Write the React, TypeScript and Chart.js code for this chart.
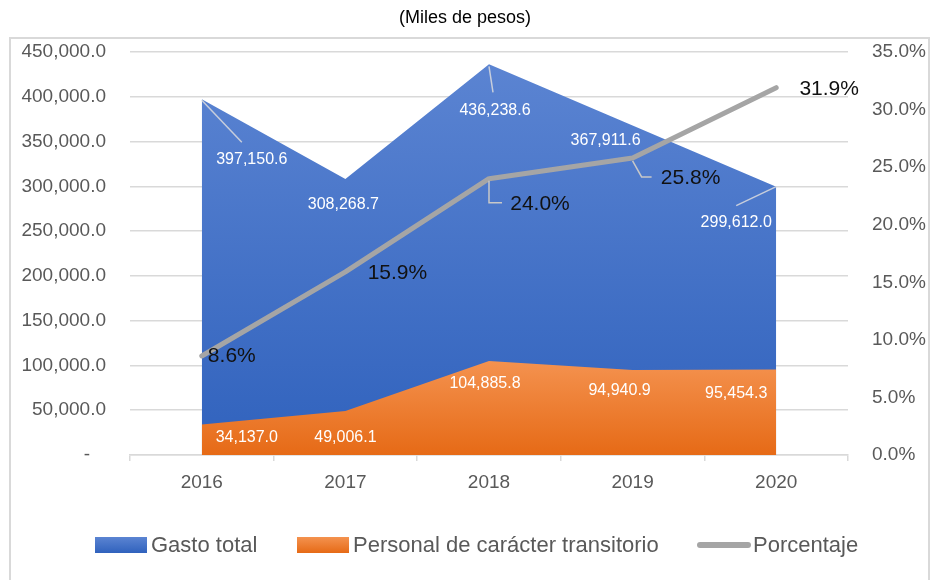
import React, { useEffect, useRef } from 'react';
import { Chart, registerables } from 'chart.js';

Chart.register(...registerables);

// ---------- DATA ----------
const categories = ['2016', '2017', '2018', '2019', '2020'];
const gastoTotal = [397150.6, 308268.7, 436238.6, 367911.6, 299612.0];
const personalTransitorio = [34137.0, 49006.1, 104885.8, 94940.9, 95454.3];
const porcentaje = [8.6, 15.9, 24.0, 25.8, 31.9];
const leftAxisMax = 450000;
const leftAxisStep = 50000;
const rightAxisMax = 35;
const rightAxisStep = 5;
const seriesNames = ['Gasto total', 'Personal de carácter transitorio', 'Porcentaje'];
const titleText = '(Miles de pesos)';

// ---------- STYLE ----------
const FONT = '"Liberation Sans", Arial, sans-serif';
const AXIS_COLOR = '#595959';
const GRID_COLOR = '#d9d9d9';
const LINE_COLOR = '#a5a5a5';

// label offsets relative to each data point (style/layout only)
const blueLabelOffsets: [number, number][] = [[50, 60], [-2, 26], [6, 46], [-27, 15], [-40, 36]];
const orangeLabelOffsets: [number, number][] = [[45, 13], [0, 26], [-4, 23], [-13, 21], [-40, 24]];
const pctLabelOffsets: [number, number][] = [[30, 0], [52, 1], [51, 26], [58, 20], [53, 2]];
const blueLeaders: ([number, number][] | null)[] = [
  [[0, 1], [40, 43]],
  null,
  [[0, 2], [4, 28]],
  null,
  [[0, 0], [-40, 19]],
];
const pctLeaders: ([number, number][] | null)[] = [
  null,
  null,
  [[0, 2], [0, 24], [13, 24]],
  [[0, 3], [9, 19], [19, 19]],
  null,
];

function fmtNum(v: number): string {
  return v.toLocaleString('en-US', { minimumFractionDigits: 1, maximumFractionDigits: 1 });
}

function blueGradient(ctx: CanvasRenderingContext2D, top: number, bottom: number) {
  const g = ctx.createLinearGradient(0, top, 0, bottom);
  g.addColorStop(0, '#5b84d2');
  g.addColorStop(1, '#3062bd');
  return g;
}
function orangeGradient(ctx: CanvasRenderingContext2D, top: number, bottom: number) {
  const g = ctx.createLinearGradient(0, top, 0, bottom);
  g.addColorStop(0, '#f4924f');
  g.addColorStop(1, '#e66a16');
  return g;
}

const framePlugin = {
  id: 'frame',
  beforeDraw(chart: any) {
    const ctx = chart.ctx as CanvasRenderingContext2D;
    ctx.save();
    ctx.fillStyle = '#ffffff';
    ctx.fillRect(0, 0, chart.width, chart.height);
    ctx.strokeStyle = GRID_COLOR;
    ctx.lineWidth = 2;
    ctx.strokeRect(10, 38, 919, 600);
    ctx.fillStyle = '#000000';
    ctx.font = `18px ${FONT}`;
    ctx.textAlign = 'center';
    ctx.textBaseline = 'middle';
    ctx.fillText(titleText, 465, 18);
    ctx.restore();
  },
  afterDraw(chart: any) {
    const ctx = chart.ctx as CanvasRenderingContext2D;
    ctx.save();
    const cy = 545;
    ctx.fillStyle = blueGradient(ctx, cy - 8, cy + 8);
    ctx.fillRect(95, cy - 8, 52, 16);
    ctx.fillStyle = orangeGradient(ctx, cy - 8, cy + 8);
    ctx.fillRect(297, cy - 8, 52, 16);
    ctx.strokeStyle = LINE_COLOR;
    ctx.lineWidth = 6;
    ctx.lineCap = 'round';
    ctx.beginPath();
    ctx.moveTo(700, cy);
    ctx.lineTo(748, cy);
    ctx.stroke();
    ctx.fillStyle = AXIS_COLOR;
    ctx.font = `22px ${FONT}`;
    ctx.textAlign = 'left';
    ctx.textBaseline = 'middle';
    ctx.fillText(seriesNames[0], 151, cy + 1);
    ctx.fillText(seriesNames[1], 353, cy + 1);
    ctx.fillText(seriesNames[2], 753, cy + 1);
    ctx.restore();
  },
};

const labelPlugin = {
  id: 'valueLabels',
  afterDatasetsDraw(chart: any) {
    const ctx = chart.ctx as CanvasRenderingContext2D;
    const metaLine = chart.getDatasetMeta(0);
    const metaOrange = chart.getDatasetMeta(1);
    const metaBlue = chart.getDatasetMeta(2);
    ctx.save();
    ctx.textAlign = 'center';
    ctx.textBaseline = 'middle';

    const drawLeader = (pts: [number, number][], x: number, y: number, color: string) => {
      ctx.strokeStyle = color;
      ctx.lineWidth = 1.5;
      ctx.lineCap = 'butt';
      ctx.beginPath();
      pts.forEach((p, i) => {
        if (i === 0) ctx.moveTo(x + p[0], y + p[1]);
        else ctx.lineTo(x + p[0], y + p[1]);
      });
      ctx.stroke();
    };

    // blue (Gasto total)
    ctx.font = `16px ${FONT}`;
    metaBlue.data.forEach((pt: any, i: number) => {
      const lead = blueLeaders[i];
      if (lead) drawLeader(lead, pt.x, pt.y, 'rgba(205,210,220,0.95)');
      const [dx, dy] = blueLabelOffsets[i];
      ctx.fillStyle = '#ffffff';
      ctx.fillText(fmtNum(gastoTotal[i]), pt.x + dx, pt.y + dy);
    });

    // orange (Personal transitorio)
    metaOrange.data.forEach((pt: any, i: number) => {
      const [dx, dy] = orangeLabelOffsets[i];
      ctx.fillStyle = '#ffffff';
      ctx.fillText(fmtNum(personalTransitorio[i]), pt.x + dx, pt.y + dy);
    });

    // percent
    ctx.font = `21px ${FONT}`;
    metaLine.data.forEach((pt: any, i: number) => {
      const lead = pctLeaders[i];
      if (lead) drawLeader(lead, pt.x, pt.y, '#c8c8c8');
      const [dx, dy] = pctLabelOffsets[i];
      ctx.fillStyle = '#111111';
      ctx.fillText(porcentaje[i].toFixed(1) + '%', pt.x + dx, pt.y + dy);
    });
    ctx.restore();
  },
};

export default function App() {
  const canvasRef = useRef<HTMLCanvasElement | null>(null);

  useEffect(() => {
    const canvas = canvasRef.current;
    if (!canvas) return;
    const chart = new Chart(canvas, {
      type: 'line',
      data: {
        labels: categories,
        datasets: [
          {
            label: seriesNames[2],
            data: porcentaje,
            yAxisID: 'y1',
            borderColor: LINE_COLOR,
            borderWidth: 5,
            borderCapStyle: 'round',
            borderJoinStyle: 'round',
            pointRadius: 0,
            fill: false,
            tension: 0,
            order: 0,
          },
          {
            label: seriesNames[1],
            data: personalTransitorio,
            yAxisID: 'y',
            borderWidth: 0,
            pointRadius: 0,
            fill: 'origin',
            tension: 0,
            order: 1,
            backgroundColor: (c: any) => {
              const ch = c.chart;
              const area = ch.chartArea;
              if (!area) return '#f08030';
              const yTop = ch.scales.y.getPixelForValue(Math.max(...personalTransitorio));
              return orangeGradient(ch.ctx, yTop, area.bottom);
            },
          },
          {
            label: seriesNames[0],
            data: gastoTotal,
            yAxisID: 'y',
            borderWidth: 0,
            pointRadius: 0,
            fill: 'origin',
            tension: 0,
            order: 2,
            backgroundColor: (c: any) => {
              const ch = c.chart;
              const area = ch.chartArea;
              if (!area) return '#4472c4';
              const yTop = ch.scales.y.getPixelForValue(Math.max(...gastoTotal));
              return blueGradient(ch.ctx, yTop, area.bottom);
            },
          },
        ],
      },
      options: {
        animation: false,
        responsive: false,
        devicePixelRatio: 1,
        layout: { padding: { top: 52, left: 0, right: 0, bottom: 0 } },
        plugins: {
          legend: { display: false },
          title: { display: false },
          tooltip: { enabled: false },
        },
        scales: {
          x: {
            type: 'category',
            offset: true,
            grid: {
              offset: true,
              drawOnChartArea: false,
              drawTicks: true,
              tickLength: 6,
              color: GRID_COLOR,
              lineWidth: 1.5,
            },
            border: { display: true, color: GRID_COLOR, width: 1.5 },
            ticks: {
              color: AXIS_COLOR,
              font: { family: FONT, size: 19 },
              padding: 10,
            },
            afterFit: (s: any) => {
              s.height = 125;
            },
          },
          y: {
            position: 'left',
            min: 0,
            max: leftAxisMax,
            grid: { color: GRID_COLOR, lineWidth: 1.5, drawTicks: false },
            border: { display: false },
            ticks: {
              stepSize: leftAxisStep,
              color: AXIS_COLOR,
              font: { family: FONT, size: 19 },
              padding: 24,
              callback: (v: any) => (Number(v) === 0 ? '-   ' : fmtNum(Number(v))),
            },
            afterFit: (s: any) => {
              s.width = 130;
            },
          },
          y1: {
            position: 'right',
            min: 0,
            max: rightAxisMax,
            grid: { drawOnChartArea: false, drawTicks: false },
            border: { display: false },
            ticks: {
              stepSize: rightAxisStep,
              color: AXIS_COLOR,
              font: { family: FONT, size: 19 },
              padding: 24,
              callback: (v: any) => Number(v).toFixed(1) + '%',
            },
            afterFit: (s: any) => {
              s.width = 87;
            },
          },
        },
      },
      plugins: [framePlugin, labelPlugin],
    } as any);
    return () => chart.destroy();
  }, []);

  return (
    <div style={{ position: 'fixed', left: 0, top: 0, width: 935, height: 580, background: '#fff' }}>
      <canvas ref={canvasRef} width={935} height={580} style={{ display: 'block' }} />
    </div>
  );
}
